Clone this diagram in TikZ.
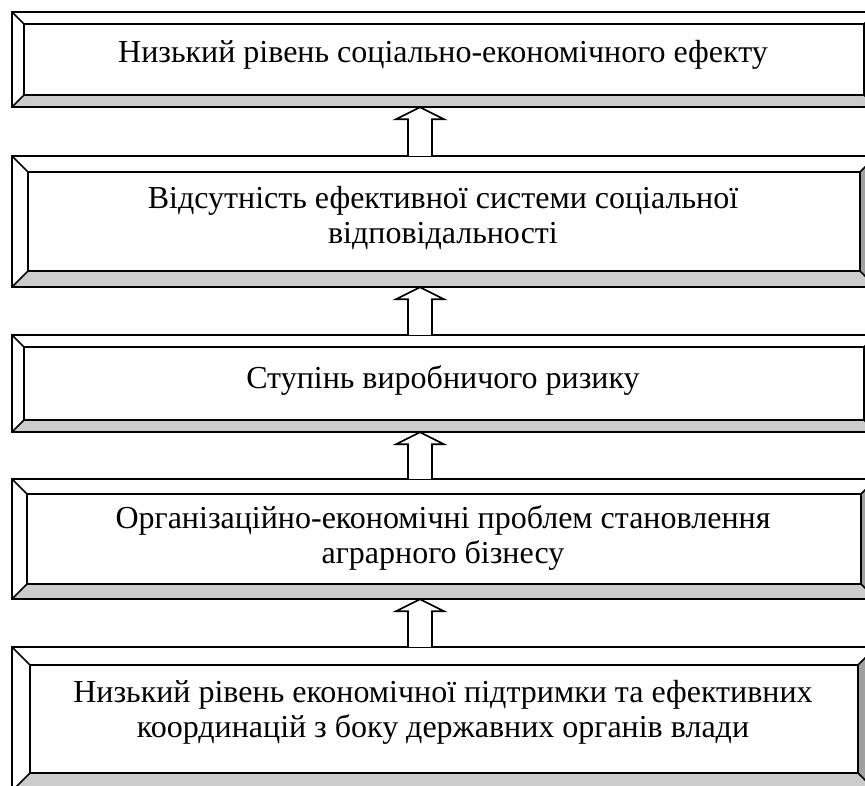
\documentclass[tikz,border=0pt]{standalone}
\usepackage{fontspec}
\setmainfont{Liberation Serif}
\usetikzlibrary{calc,fit}
\definecolor{bevbottom}{HTML}{CCCCCC}
\definecolor{bevright}{HTML}{A0A0A0}
\tikzset{
  bevline/.style={draw=black, line width=1.7pt, line join=miter},
  txt/.style={align=center, inner sep=0pt, anchor=base, font=\fontsize{32}{34.5}\selectfont},
  blockarrow/.style={draw=black, fill=white, line width=1.7pt, line join=miter},
}
% #1 name, #2 x0, #3 y0, #4 x1, #5 y1, #6 bevel
\newcommand{\bevbox}[6]{%
  \coordinate (#1-nw) at (#2,#3);
  \coordinate (#1-se) at (#4,#5);
  \node[fit=(#1-nw)(#1-se), inner sep=0pt, draw=none] (#1) {};
  \fill[white] (#2,#3) rectangle (#4,#5);
  \fill[bevbottom] (#2,#5) -- (#4,#5) -- ({#4-#6},{#5-#6}) -- ({#2+#6},{#5-#6}) -- cycle;
  \fill[bevright] (#4,#3) -- (#4,#5) -- ({#4-#6},{#5-#6}) -- ({#4-#6},{#3+#6}) -- cycle;
  \draw[bevline] (#2,#3) rectangle (#4,#5);
  \draw[bevline] ({#2+#6},{#3+#6}) rectangle ({#4-#6},{#5-#6});
  \draw[bevline] (#2,#3) -- ({#2+#6},{#3+#6});
  \draw[bevline] (#4,#3) -- ({#4-#6},{#3+#6});
  \draw[bevline] (#2,#5) -- ({#2+#6},{#5-#6});
  \draw[bevline] (#4,#5) -- ({#4-#6},{#5-#6});
}
% block arrow from lower box #1 (top edge) to upper box #2 (bottom edge)
\newcommand{\uparrowblk}[2]{%
  \draw[blockarrow]
    ($(#1.north)+(-36,0)$) -- ($(#2.south)+(-36,12)$) -- ($(#2.south)+(-48,12)$)
    -- ($(#2.south)+(-24,0)$) -- ($(#2.south)+(0,12)$) -- ($(#2.south)+(-12,12)$)
    -- ($(#1.north)+(-12,0)$);
}
\begin{document}
\begin{tikzpicture}[x=1pt,y=-1pt]
\useasboundingbox (0,0) rectangle (865,785);
\bevbox{b1}{12}{12}{876}{107}{12}
\bevbox{b2}{12}{156}{876}{287}{16}
\bevbox{b3}{12}{335}{876}{432}{12}
\bevbox{b4}{12}{479}{876}{599}{15}
\bevbox{b5}{12}{647}{876}{791}{18}
\node[txt] (t1) at (443,62) {Низький рівень соціально-економічного ефекту};
\node[txt] (t2) at (443,243) {Відсутність ефективної системи соціальної\\відповідальності};
\node[txt] (t3) at (443,388) {Ступінь виробничого ризику};
\node[txt] (t4) at (443,563) {Організаційно-економічні проблем становлення\\аграрного бізнесу};
\node[txt] (t5) at (443,737) {Низький рівень економічної підтримки та ефективних\\координацій з боку державних органів влади};
\uparrowblk{b2}{b1}
\uparrowblk{b3}{b2}
\uparrowblk{b4}{b3}
\uparrowblk{b5}{b4}
\end{tikzpicture}
\end{document}
